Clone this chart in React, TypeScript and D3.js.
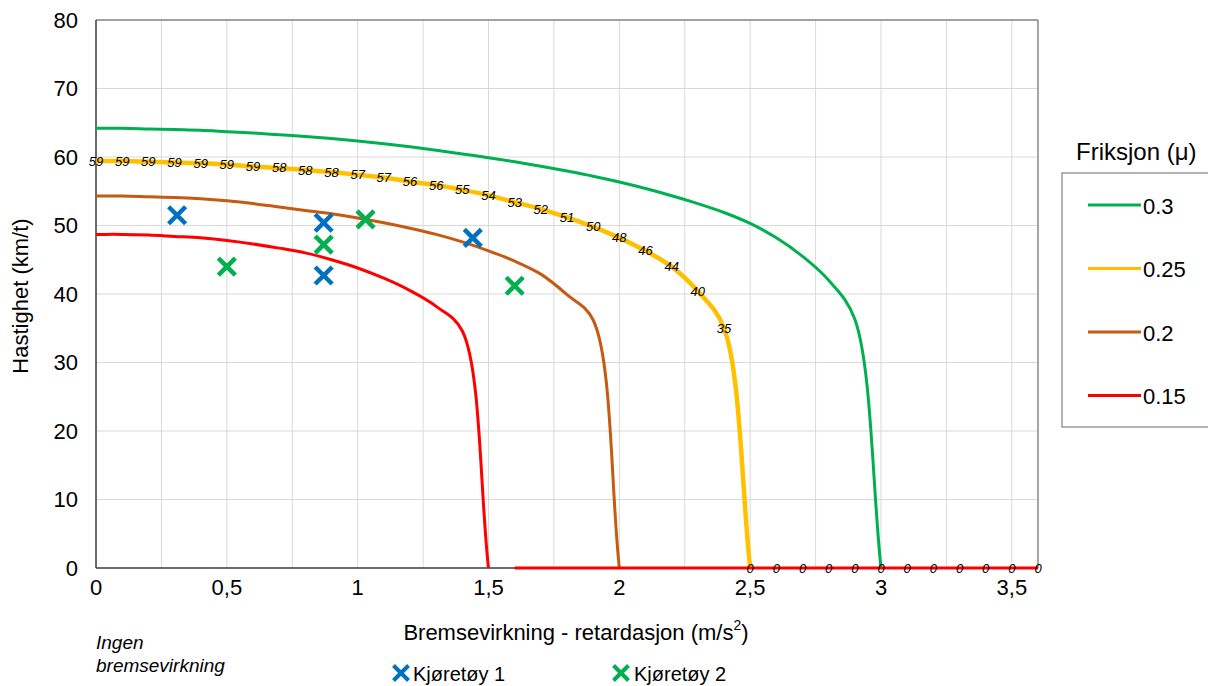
import React from 'react';
import * as d3 from 'd3';

// x values every 0.1 m/s2
const xSteps = d3.range(0, 31).map(i => +(i * 0.1).toFixed(1));
const xStepsLong = d3.range(0, 37).map(i => +(i * 0.1).toFixed(1));

const green03 = [64.2, 64.2, 64.1, 64.0, 63.9, 63.7, 63.5, 63.25, 63.0, 62.7, 62.35, 61.95, 61.5, 61.0, 60.45, 59.9,
  59.3, 58.65, 57.95, 57.2, 56.35, 55.4, 54.35, 53.2, 51.9, 50.3, 48.2, 45.5, 42.0, 36.3, 0];
const yellow025 = [59.4, 59.4, 59.3, 59.2, 59.1, 58.9, 58.6, 58.4, 58.1, 57.8, 57.4, 57.0, 56.4, 55.9, 55.2, 54.4,
  53.4, 52.4, 51.2, 49.8, 48.2, 46.3, 44.0, 40.4, 35.0, 0, 0, 0, 0, 0, 0, 0, 0, 0, 0, 0, 0];
const brown02 = [54.3, 54.3, 54.2, 54.1, 53.9, 53.6, 53.2, 52.7, 52.2, 51.7, 51.1, 50.4, 49.6, 48.7, 47.6, 46.3,
  44.8, 42.9, 39.9, 36.2, 0];
const red015 = [48.7, 48.7, 48.6, 48.4, 48.2, 47.8, 47.3, 46.7, 46.0, 45.0, 43.8, 42.3, 40.5, 38.2, 34.6, 0];
const redFloorX = [1.6, 3.6];
const redFloor = [0, 0];

const vehicle1 = [
  { x: 0.31, y: 51.5 },
  { x: 0.87, y: 50.4 },
  { x: 0.87, y: 42.7 },
  { x: 1.44, y: 48.2 },
];
const vehicle2 = [
  { x: 0.5, y: 44.0 },
  { x: 0.87, y: 47.2 },
  { x: 1.03, y: 50.9 },
  { x: 1.6, y: 41.2 },
];

const xTicks = [0, 0.5, 1, 1.5, 2, 2.5, 3, 3.5];
const xTickLabels = ['0', '0,5', '1', '1,5', '2', '2,5', '3', '3,5'];
const yTicks = [0, 10, 20, 30, 40, 50, 60, 70, 80];
const xGrid = d3.range(0, 15).map(i => i * 0.25);

const legendItems = [
  { label: '0.3', color: '#00b050' },
  { label: '0.25', color: '#ffc000' },
  { label: '0.2', color: '#c55a11' },
  { label: '0.15', color: '#ff0000' },
];

const FONT = '"Liberation Sans", Arial, sans-serif';

const Cross = ({ cx, cy, size, color, width }) => (
  <g stroke={color} strokeWidth={width} strokeLinecap="butt">
    <line x1={cx - size} y1={cy - size} x2={cx + size} y2={cy + size} />
    <line x1={cx - size} y1={cy + size} x2={cx + size} y2={cy - size} />
  </g>
);

export default function App() {
  const W = 1208;
  const H = 686;
  const x = d3.scaleLinear().domain([0, 3.6]).range([96, 1038]);
  const y = d3.scaleLinear().domain([0, 80]).range([568, 20]);

  const line = d3.line<number>()
    .curve(d3.curveCatmullRomOpen.alpha(0.5));

  // smoothed curve up to the first zero; extra end handles keep the ends along the chord
  const path = (xs: number[], ys: number[]) => {
    const end = ys.indexOf(0);
    const n = end < 0 ? ys.length : end + 1;
    const pts = ys.slice(0, n).map((v, i) => [x(xs[i]), y(v)]);
    const a = pts[0], b = pts[1];
    const p = pts[n - 2], q = pts[n - 1];
    const full = [[2 * a[0] - b[0], 2 * a[1] - b[1]], ...pts, [2 * q[0] - p[0], 2 * q[1] - p[1]]];
    return line(full as any) || '';
  };

  const series = [
    { xs: xSteps, ys: green03, color: '#00b050', w: 3 },
    { xs: xStepsLong, ys: yellow025, color: '#ffc000', w: 4.5 },
    { xs: xSteps, ys: brown02, color: '#c55a11', w: 3 },
    { xs: xSteps, ys: red015, color: '#ff0000', w: 3 },
  ];

  return (
    <svg width={W} height={H} style={{ position: 'absolute', left: 0, top: 0, background: '#fff' }}
      fontFamily={FONT}>
      <rect x={0} y={0} width={W} height={H} fill="#fff" />
      {/* grid */}
      {xGrid.map(g => (
        <line key={'vx' + g} x1={x(g)} x2={x(g)} y1={y(0)} y2={y(80)} stroke="#d9d9d9" strokeWidth={1} />
      ))}
      {yTicks.map(t => (
        <line key={'hy' + t} x1={x(0)} x2={x(3.6)} y1={y(t)} y2={y(t)} stroke="#d9d9d9" strokeWidth={1} />
      ))}
      {/* plot border */}
      <line x1={x(0)} x2={x(3.6)} y1={y(80)} y2={y(80)} stroke="#898989" strokeWidth={1.5} />
      <line x1={x(3.6)} x2={x(3.6)} y1={y(80)} y2={y(0)} stroke="#898989" strokeWidth={1.5} />
      {/* axes */}
      <line x1={x(0)} x2={x(0)} y1={y(80)} y2={y(0)} stroke="#404040" strokeWidth={1.5} />
      <line x1={x(0)} x2={x(3.6)} y1={y(0)} y2={y(0)} stroke="#404040" strokeWidth={1.5} />

      {yTicks.map(t => (
        <text key={'yt' + t} x={78} y={y(t)} textAnchor="end" dominantBaseline="central" fontSize={22} fill="#000">
          {t}
        </text>
      ))}
      {xTicks.map((t, i) => (
        <text key={'xt' + t} x={x(t)} y={587} textAnchor="middle" dominantBaseline="central" fontSize={22} fill="#000">
          {xTickLabels[i]}
        </text>
      ))}

      {series.map((s, i) => (
        <path key={'s' + i} d={path(s.xs, s.ys)} fill="none" stroke={s.color} strokeWidth={s.w}
          strokeLinejoin="round" />
      ))}
      <path d={d3.line()(redFloorX.map((v, i) => [x(v), y(redFloor[i])]) as any) || ''}
        fill="none" stroke="#ff0000" strokeWidth={3} />

      {/* data labels for 0.25 curve */}
      {yellow025.map((v, i) => (
        <text key={'dl' + i} x={x(xStepsLong[i])} y={y(v)} textAnchor="middle" dominantBaseline="central"
          fontSize={13} fontStyle="italic" fill="#000">
          {Math.round(v)}
        </text>
      ))}

      {vehicle1.map((p, i) => (
        <Cross key={'v1' + i} cx={x(p.x)} cy={y(p.y)} size={8.5} color="#0070c0" width={4.5} />
      ))}
      {vehicle2.map((p, i) => (
        <Cross key={'v2' + i} cx={x(p.x)} cy={y(p.y)} size={8.5} color="#00b050" width={4.5} />
      ))}

      {/* axis titles */}
      <text x={576} y={632} textAnchor="middle" dominantBaseline="central" fontSize={22} fill="#000">
        Bremsevirkning - retardasjon (m/s<tspan fontSize={14} dy={-7}>2</tspan><tspan dy={7}>)</tspan>
      </text>
      <text transform="translate(20,296) rotate(-90)" textAnchor="middle" dominantBaseline="central"
        fontSize={22} fill="#000">
        Hastighet (km/t)
      </text>

      <text x={96} y={642} fontSize={19} fontStyle="italic" dominantBaseline="central" fill="#000">Ingen</text>
      <text x={96} y={665} fontSize={19} fontStyle="italic" dominantBaseline="central" fill="#000">bremsevirkning</text>

      {/* bottom legend */}
      <Cross cx={401} cy={673} size={7.5} color="#0070c0" width={4} />
      <text x={413} y={674} fontSize={20} dominantBaseline="central" fill="#000">Kjøretøy 1</text>
      <Cross cx={621} cy={673} size={7.5} color="#00b050" width={4} />
      <text x={634} y={674} fontSize={20} dominantBaseline="central" fill="#000">Kjøretøy 2</text>

      {/* friction legend */}
      <text x={1076} y={151} fontSize={24} dominantBaseline="central" fill="#000">Friksjon (μ)</text>
      <rect x={1062} y={173} width={160} height={254} fill="#fff" stroke="#808080" strokeWidth={1.2} />
      {legendItems.map((d, i) => {
        const ly = 205 + i * 63.5;
        return (
          <g key={'lg' + i}>
            <line x1={1088} x2={1141} y1={ly} y2={ly} stroke={d.color} strokeWidth={3} />
            <text x={1143} y={ly + 1} fontSize={22} dominantBaseline="central" fill="#000">{d.label}</text>
          </g>
        );
      })}
    </svg>
  );
}
